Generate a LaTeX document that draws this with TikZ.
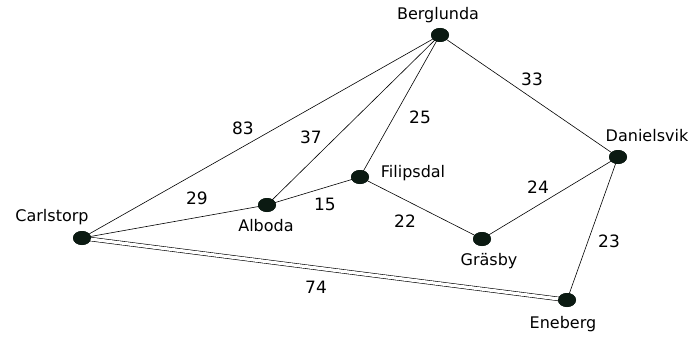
\documentclass[tikz,border=0pt]{standalone}
\usepackage{fontspec}
\setmainfont{DejaVu Sans}
\begin{document}
\begin{tikzpicture}[x=1pt,y=-1pt,
  city/.style={ellipse,fill=dotcol,minimum width=18pt,minimum height=14pt,inner sep=0pt},
  lbl/.style={font=\fontsize{16}{18}\selectfont},
  wt/.style={font=\fontsize{17}{19}\selectfont},
  edge/.style={draw=black,line width=0.6pt}]
\usetikzlibrary{shapes.geometric}
\definecolor{dotcol}{HTML}{0B1A12}
\useasboundingbox (0,0) rectangle (688,337);
\node[city] (C) at (82,238) {};
\node[city] (A) at (267,205) {};
\node[city] (B) at (440,35) {};
\node[city] (F) at (360,177) {};
\node[city] (G) at (482,239) {};
\node[city] (E) at (567,300) {};
\node[city] (D) at (618,157) {};
\node[lbl] (Cl) at (52,217) {Carlstorp};
\node[lbl] (Al) at (266,226) {Alboda};
\node[lbl] (Bl) at (438,15) {Berglunda};
\node[lbl] (Fl) at (413,173) {Filipsdal};
\node[lbl] (Gl) at (489,261) {Gräsby};
\node[lbl] (El) at (563,324) {Eneberg};
\node[lbl] (Dl) at (647,136) {Danielsvik};
\draw[edge] (C.center) -- (B.center);
\draw[edge] (C.center) -- (A.center);
\draw[edge] (A.center) -- (B.center);
\draw[edge] (A.center) -- (F.center);
\draw[edge] (F.center) -- (B.center);
\draw[edge] (B.center) -- (D.center);
\draw[edge] (F.center) -- (G.center);
\draw[edge] (G.center) -- (D.center);
\draw[edge] (D.center) -- (E.center);
\draw[edge,double=white,double distance=3.2pt,line width=0.6pt] (C.center) -- (E.center);
\foreach \n in {C,A,B,F,G,E,D} \node[city] at (\n) {};
\node[wt] (w83) at (243,128) {83};
\node[wt] (w37) at (311,137) {37};
\node[wt] (w25) at (420,117) {25};
\node[wt] (w33) at (532,79) {33};
\node[wt] (w29) at (197,198) {29};
\node[wt] (w15) at (325,204) {15};
\node[wt] (w22) at (405,221) {22};
\node[wt] (w24) at (538,187) {24};
\node[wt] (w23) at (609,241) {23};
\node[wt] (w74) at (316,287) {74};
\end{tikzpicture}
\end{document}
